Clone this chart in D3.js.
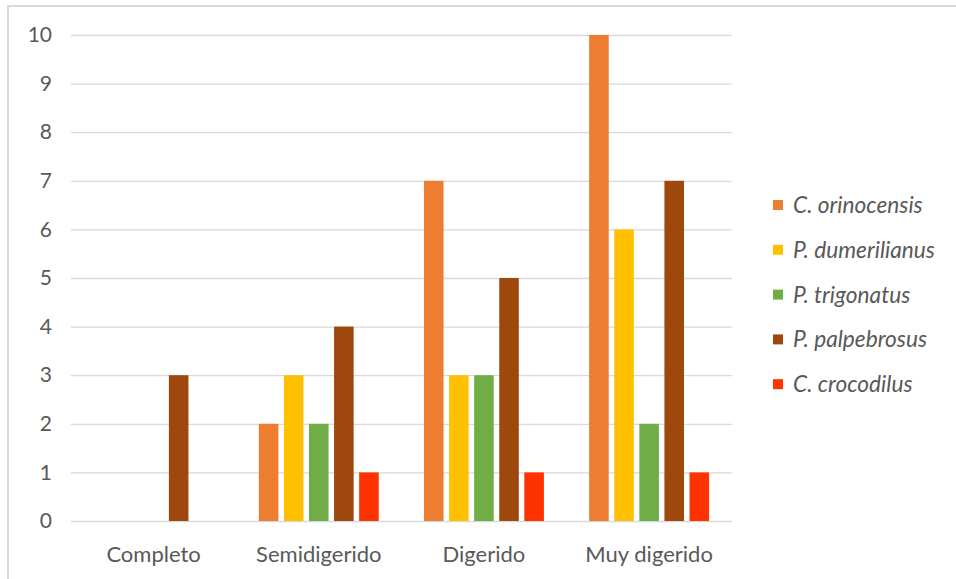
<!DOCTYPE html>
<html><head><meta charset="utf-8">
<script src="https://cdn.jsdelivr.net/npm/d3@7"></script>
<style>
html,body{margin:0;padding:0;background:#fff;}
svg{display:block;font-family:Lato,"Open Sans",sans-serif;}
</style></head>
<body><svg id="chart" width="956" height="579"></svg>
<script>
const categories = ["Completo", "Semidigerido", "Digerido", "Muy digerido"];
const seriesNames = ["C. orinocensis", "P. dumerilianus", "P. trigonatus", "P. palpebrosus", "C. crocodilus"];
const seriesColors = ["#ED7D31", "#FFC000", "#70AD47", "#9E480E", "#FF3300"];
const orinocensis  = [0, 2, 7, 10];
const dumerilianus = [0, 3, 3, 6];
const trigonatus   = [0, 2, 3, 2];
const palpebrosus  = [3, 4, 5, 7];
const crocodilus   = [0, 1, 1, 1];
const yTicks = [0,1,2,3,4,5,6,7,8,9,10];

const seriesValues = [orinocensis, dumerilianus, trigonatus, palpebrosus, crocodilus];

const svg = d3.select("#chart");
const W = 956, H = 579;
const plot = {left: 71, right: 731.7, top: 35, bottom: 521};

// frame (left and top edges)
svg.append("line").attr("x1", 8).attr("x2", 8).attr("y1", 5).attr("y2", H)
  .attr("stroke", "#d9d9d9").attr("stroke-width", 2);
svg.append("line").attr("x1", 7).attr("x2", W).attr("y1", 6).attr("y2", 6)
  .attr("stroke", "#d9d9d9").attr("stroke-width", 2);

const y = d3.scaleLinear().domain([0, 10]).range([plot.bottom, plot.top]);
const x0 = d3.scaleBand().domain(categories).range([plot.left, plot.right])
  .paddingInner(0.274).paddingOuter(0.137);
const x1 = d3.scaleBand().domain(seriesNames).range([0, x0.bandwidth()])
  .paddingInner(0.22).paddingOuter(0);
const color = d3.scaleOrdinal().domain(seriesNames).range(seriesColors);

// gridlines
const yAxis = d3.axisLeft(y).tickValues(yTicks).tickSize(-(plot.right - plot.left)).tickPadding(19)
  .tickFormat(d3.format("d"));
const gy = svg.append("g").attr("transform", `translate(${plot.left},0)`).call(yAxis);
gy.select(".domain").remove();
gy.selectAll(".tick line").attr("stroke", "#d9d9d9").attr("stroke-width", 1.3);
gy.selectAll(".tick text").attr("fill", "#595959").style("font-size", "21px")
  .style("font-family", "Lato, 'Open Sans', sans-serif");

// bars
const data = categories.map((c, i) => ({cat: c, vals: seriesNames.map((s, j) => ({s, v: seriesValues[j][i]}))}));
const groups = svg.append("g").selectAll("g").data(data).join("g")
  .attr("transform", d => `translate(${x0(d.cat)},0)`);
groups.selectAll("rect").data(d => d.vals.filter(e => e.v > 0)).join("rect")
  .attr("x", d => x1(d.s))
  .attr("width", x1.bandwidth())
  .attr("y", d => y(d.v))
  .attr("height", d => y(0) - y(d.v))
  .attr("fill", d => color(d.s));

// x axis labels
const xAxis = d3.axisBottom(x0).tickSize(0).tickPadding(25);
const gx = svg.append("g").attr("transform", `translate(0,${plot.bottom})`).call(xAxis);
gx.select(".domain").remove();
gx.selectAll(".tick text").attr("fill", "#595959").style("font-size", "22px")
  .style("font-family", "Lato, 'Open Sans', sans-serif");

// legend
const legend = svg.append("g").attr("transform", "translate(773,205)");
const li = legend.selectAll("g").data(seriesNames).join("g")
  .attr("transform", (d, i) => `translate(0,${i * 44.8})`);
li.append("rect").attr("x", 0).attr("y", -5).attr("width", 10).attr("height", 10)
  .attr("fill", d => color(d));
li.append("text").attr("x", 20).attr("y", 0).attr("dy", "0.35em")
  .attr("fill", "#595959").style("font-size", "22.7px").style("font-style", "italic")
  .text(d => d);
</script></body></html>
